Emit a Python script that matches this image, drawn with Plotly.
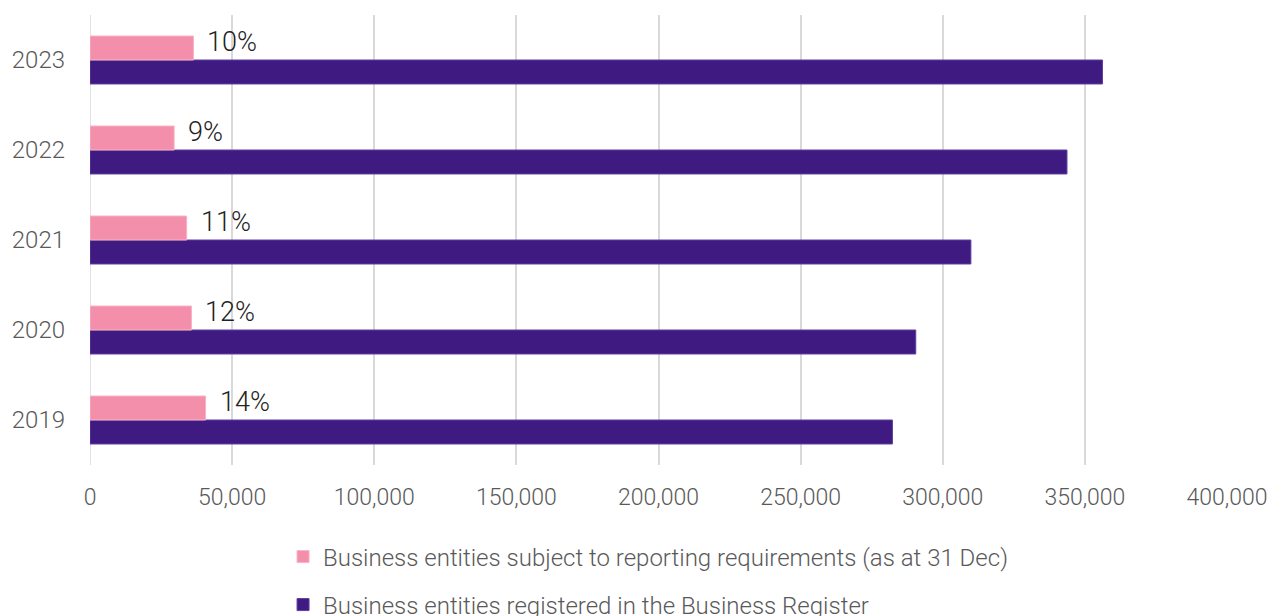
import plotly.graph_objects as go

years = ["2019", "2020", "2021", "2022", "2023"]
reporting = [40650, 35700, 34000, 29600, 36400]
registered = [282300, 290500, 309900, 343700, 356200]
share_labels = ["14%", "12%", "11%", "9%", "10%"]
x_ticks = [0, 50000, 100000, 150000, 200000, 250000, 300000, 350000, 400000]
x_tick_text = ["0", "50,000", "100,000", "150,000", "200,000", "250,000", "300,000", "350,000", "400,000"]

PINK = "#f48fab"
PURPLE = "#3f1a80"
FONT = "Roboto"

fig = go.Figure()
fig.add_trace(go.Bar(
    y=years, x=registered, orientation="h", name="Business entities registered in the Business Register",
    marker=dict(color=PURPLE, line=dict(color="#5e3fa3", width=1)), legend="legend2",
))
fig.add_trace(go.Bar(
    y=years, x=reporting, orientation="h", name="Business entities subject to reporting requirements (as at 31 Dec)",
    marker=dict(color=PINK, line=dict(color="#f7b3c6", width=1)), legend="legend",
))

for i, (val, lab) in enumerate(zip(reporting, share_labels)):
    fig.add_annotation(x=val, y=i, xref="x", yref="y", text=lab, showarrow=False,
                       xanchor="left", yanchor="middle", xshift=12, yshift=18,
                       font=dict(family=FONT, size=27, color="#222222", weight=300))

legend_common = dict(orientation="h", xanchor="left", yanchor="middle", bgcolor="rgba(0,0,0,0)",
                     xref="container", yref="container",
                     font=dict(family=FONT, size=24, color="#595959", weight=300))

fig.update_layout(
    width=1271, height=616,
    margin=dict(l=90, r=44, t=15, b=151),
    paper_bgcolor="white", plot_bgcolor="white",
    barmode="group", bargap=0.467, bargroupgap=0,
    showlegend=True,
    legend=dict(x=0.2227, y=0.0958, **legend_common),
    legend2=dict(x=0.2227, y=0.0179, **legend_common),
    xaxis=dict(range=[0, 400000], tickvals=x_ticks, ticktext=x_tick_text, showgrid=True,
               gridcolor="#d9d9d9", gridwidth=1.5, zeroline=False, showline=False,
               ticks="", ticklabelstandoff=16, automargin=False,
               tickfont=dict(family=FONT, size=23, color="#595959", weight=300)),
    yaxis=dict(type="category", categoryorder="array", categoryarray=years, range=[-0.5, 4.5],
               showgrid=False, zeroline=False, showline=False, ticks="", ticklabelstandoff=24,
               automargin=False,
               tickfont=dict(family=FONT, size=24, color="#595959", weight=300)),
)
fig.add_shape(type="line", xref="x", yref="paper", x0=0, x1=0, y0=0, y1=1,
              line=dict(color="#d9d9d9", width=1.5), layer="below")

fig.write_html(
    "out.html",
    config={"displayModeBar": False},
    post_script="document.body.style.margin='0';document.documentElement.style.overflow='hidden';",
)
